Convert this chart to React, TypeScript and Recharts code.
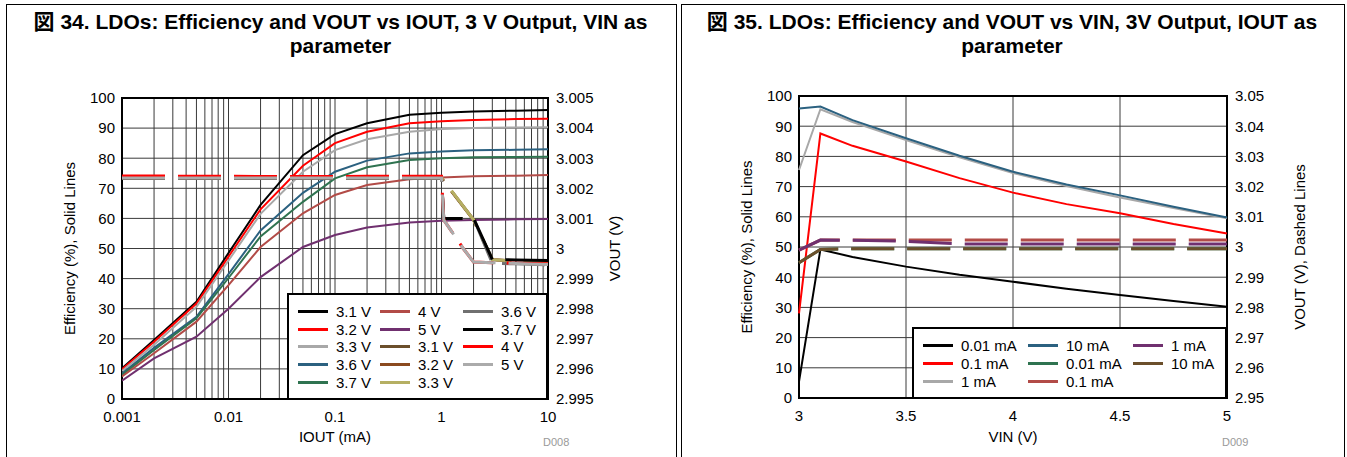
import React from "react"
import { CartesianGrid, Label, Legend, Line, LineChart, ReferenceArea, XAxis, YAxis } from "recharts"

const FONT = "Arial, 'Liberation Sans', 'Noto Sans CJK JP', sans-serif"

// ---- Fig 34: efficiency / VOUT vs IOUT, VIN as parameter ----
const ioutDecades = [0.001, 0.01, 0.1, 1, 10]
const ioutMinor = [1, 2, 3, 4, 5, 6, 7, 8, 9]
const iout = [0.001, 0.002, 0.005, 0.01, 0.02, 0.05, 0.1, 0.2, 0.5, 1, 2, 5, 10]
const eff31 = [10.2, 19.6, 32.3, 48.5, 64.5, 81, 88, 91.6, 94.4, 95.1, 95.5, 95.8, 96]
const eff32 = [9.9, 19, 31.7, 47.3, 63, 77.5, 85, 88.8, 91.6, 92.3, 92.7, 93, 93.1]
const eff33 = [9.3, 18, 30.6, 46, 61.5, 75.5, 82.7, 86.3, 88.8, 89.7, 90, 90.2, 90.3]
const eff36 = [8.5, 17, 27.3, 41.5, 56, 68.5, 75.5, 79.2, 81.6, 82.2, 82.6, 82.8, 83]
const eff37 = [8, 16.3, 26.8, 40.2, 54, 65.5, 73.3, 77, 79.4, 80, 80.3, 80.4, 80.5]
const eff40 = [7.5, 15.2, 25.7, 37.8, 50.5, 61.7, 67.8, 71.1, 73, 73.6, 74, 74.2, 74.4]
const eff50 = [6.1, 13.5, 20.7, 30, 40.5, 50.5, 54.5, 57, 58.6, 59.2, 59.5, 59.7, 59.8]

const ioutV = [0.001, 0.002, 0.005, 0.01, 0.02, 0.05, 0.1, 0.2, 0.5, 1, 1.05, 1.6, 2, 3, 5, 10]
const vout31 = [3.00233, 3.00233, 3.00233, 3.00233, 3.00233, 3.00233, 3.00233, 3.00233, 3.00233, 3.00233, null, null, 3.00095, 2.99963, 2.99958, 2.99953]
const vout32 = [3.00234, 3.00234, 3.00234, 3.00234, 3.00234, 3.00234, 3.00234, 3.00234, 3.00234, 3.00234, null, null, 3.00095, 2.99963, 2.99958, 2.99953]
const vout33 = [3.00236, 3.00236, 3.00236, 3.00236, 3.00236, 3.00236, 3.00236, 3.00236, 3.00236, 3.00236, null, null, 3.00095, 2.99963, 2.99958, 2.99953]
const vout36 = [3.00234, 3.00234, 3.00234, 3.00234, 3.00234, 3.00234, 3.00234, 3.00234, 3.00234, 3.00234, 3.001, null, 3.001, 2.99951, 2.99949, 2.99946]
const vout37 = [3.00235, 3.00235, 3.00235, 3.00235, 3.00235, 3.00235, 3.00235, 3.00235, 3.00235, 3.00235, 3.001, null, 3.001, 2.99964, 2.99962, 2.9996]
const vout40 = [3.00241, 3.00241, 3.0024, 3.0024, 3.00239, 3.00239, 3.00239, 3.0024, 3.0024, 3.0024, 3.00095, 3.0, 2.99955, 2.99953, 2.99951, 2.99949]
const vout50 = [3.00234, 3.00234, 3.00234, 3.00234, 3.00234, 3.00234, 3.00234, 3.00234, 3.00234, 3.00234, 3.00095, 3.0, 2.99955, 2.99953, 2.9995, 2.99947]

const effTicks = [0, 10, 20, 30, 40, 50, 60, 70, 80, 90, 100]
const vout34Ticks = [2.995, 2.996, 2.997, 2.998, 2.999, 3, 3.001, 3.002, 3.003, 3.004, 3.005]

const leftSeries = [
  { name: "3.1 V", color: "#000000", x: iout, y: eff31, axis: "eff" },
  { name: "3.2 V", color: "#ff0000", x: iout, y: eff32, axis: "eff" },
  { name: "3.3 V", color: "#a8a8a8", x: iout, y: eff33, axis: "eff" },
  { name: "3.6 V", color: "#2b6180", x: iout, y: eff36, axis: "eff" },
  { name: "3.7 V", color: "#2f7350", x: iout, y: eff37, axis: "eff" },
  { name: "4 V", color: "#b24b47", x: iout, y: eff40, axis: "eff" },
  { name: "5 V", color: "#70306f", x: iout, y: eff50, axis: "eff" },
  { name: "3.1 V", color: "#6b4f2b", x: ioutV, y: vout31, axis: "vout" },
  { name: "3.2 V", color: "#8b4a1f", x: ioutV, y: vout32, axis: "vout" },
  { name: "3.3 V", color: "#b5af63", x: ioutV, y: vout33, axis: "vout" },
  { name: "3.6 V", color: "#707070", x: ioutV, y: vout36, axis: "vout" },
  { name: "3.7 V", color: "#000000", x: ioutV, y: vout37, axis: "vout" },
  { name: "4 V", color: "#ff0000", x: ioutV, y: vout40, axis: "vout" },
  { name: "5 V", color: "#ababab", x: ioutV, y: vout50, axis: "vout" },
]

// ---- Fig 35: efficiency / VOUT vs VIN, IOUT as parameter ----
const vin = [3, 3.1, 3.25, 3.5, 3.75, 4, 4.25, 4.5, 4.75, 5]
const effA001 = [5.4, 49.2, 46.7, 43.5, 40.8, 38.5, 36.2, 34.1, 32.1, 30.2]
const effA01 = [28, 87.6, 83.5, 78.3, 72.8, 68, 64.2, 61.2, 57.6, 54.5]
const effA1 = [75.5, 95.6, 91.4, 85.4, 79.7, 74.5, 70.2, 66.4, 62.9, 59.5]
const effA10 = [95.9, 96.5, 92, 86, 80.2, 74.9, 70.7, 67.1, 63.3, 59.8]
const voutA001 = [2.9948, 2.9992, 2.9994, 2.9994, 2.9994, 2.9994, 2.9994, 2.9994, 2.9994, 2.9994]
const voutA01 = [2.999, 3.0023, 3.0023, 3.0023, 3.0023, 3.0023, 3.0023, 3.0023, 3.0023, 3.0023]
const voutA1 = [2.999, 3.0023, 3.0022, 3.0019, 3.001, 3.001, 3.001, 3.001, 3.001, 3.001]
const voutA10 = [2.9948, 2.9992, 2.9994, 2.9994, 2.9994, 2.9994, 2.9994, 2.9994, 2.9994, 2.9994]

const vinTicks = [3, 3.5, 4, 4.5, 5]
const vout35Ticks = [2.95, 2.96, 2.97, 2.98, 2.99, 3, 3.01, 3.02, 3.03, 3.04, 3.05]

const rightSeries = [
  { name: "0.01 mA", color: "#000000", y: effA001, axis: "eff" },
  { name: "0.1 mA", color: "#ff0000", y: effA01, axis: "eff" },
  { name: "1 mA", color: "#a8a8a8", y: effA1, axis: "eff" },
  { name: "10 mA", color: "#2b6180", y: effA10, axis: "eff" },
  { name: "0.01 mA", color: "#2f7350", y: voutA001, axis: "vout" },
  { name: "0.1 mA", color: "#b24b47", y: voutA01, axis: "vout" },
  { name: "1 mA", color: "#70306f", y: voutA1, axis: "vout" },
  { name: "10 mA", color: "#6b4f2b", y: voutA10, axis: "vout" },
]

const ioutTicks = ioutDecades.flatMap((d, i) =>
  i < ioutDecades.length - 1 ? ioutMinor.map((m) => +(d * m).toPrecision(3)) : [d]
)

const tickStyle = { fill: "#000", fontSize: 15, fontFamily: FONT }
const labelStyle = { fill: "#000", fontSize: 15, fontFamily: FONT, textAnchor: "middle" as const }
const DASH = "43 13"

type Item = { name: string; color: string }

function BoxLegend({ items, rows, cols, rowH, padTop }: { items: Item[]; rows: number; cols: string; rowH: number; padTop: number }) {
  return (
    <div
      style={{
        boxSizing: "border-box",
        width: "100%",
        height: "100%",
        border: "2px solid #000",
        background: "#fff",
        padding: `${padTop}px 0 0 9px`,
        display: "grid",
        gridAutoFlow: "column",
        gridTemplateRows: `repeat(${rows}, ${rowH}px)`,
        gridTemplateColumns: cols,
        fontFamily: FONT,
        fontSize: 15,
        color: "#000",
      }}
    >
      {items.map((it, i) => (
        <div key={i} style={{ display: "flex", alignItems: "center", whiteSpace: "nowrap" }}>
          <span style={{ display: "inline-block", width: 30, borderTop: `3px solid ${it.color}`, marginRight: 8 }} />
          <span>{it.name}</span>
        </div>
      ))}
    </div>
  )
}

function Fig34() {
  return (
    <LineChart width={676} height={457} margin={{ top: 98, right: 0, bottom: 0, left: 0 }}>
      <CartesianGrid yAxisId="eff" stroke="#3a3a3a" strokeWidth={1} />
      <XAxis
        dataKey="x"
        type="number"
        scale="log"
        domain={[0.001, 10]}
        ticks={ioutTicks}
        interval={0}
        allowDataOverflow
        height={58}
        axisLine={false}
        tickLine={false}
        tickMargin={6}
        tick={tickStyle}
        tickFormatter={(v: number) => (ioutDecades.includes(v) ? String(v) : "")}
      >
        <Label value="IOUT (mA)" position="insideBottom" offset={15} style={labelStyle} />
      </XAxis>
      <YAxis yAxisId="eff" domain={[0, 100]} ticks={effTicks} interval={0} width={122} axisLine={false} tickLine={false} tickMargin={1} tick={tickStyle}>
        <Label value="Efficiency (%), Solid Lines" angle={-90} position="insideLeft" offset={70} style={labelStyle} />
      </YAxis>
      <YAxis
        yAxisId="vout"
        orientation="right"
        domain={[2.995, 3.005]}
        ticks={vout34Ticks}
        interval={0}
        width={128}
        axisLine={false}
        tickLine={false}
        tick={tickStyle}
        allowDataOverflow
        tickFormatter={(v: number) => String(+v.toFixed(3))}
      >
        <Label value="VOUT (V)" angle={-90} position="insideLeft" offset={67} style={labelStyle} />
      </YAxis>
      {leftSeries.map((s, i) => (
        <Line
          key={i}
          yAxisId={s.axis}
          data={s.x.map((x, j) => ({ x, y: s.y[j] }))}
          dataKey="y"
          name={s.name}
          type="linear"
          stroke={s.color}
          strokeWidth={s.axis === "eff" ? 2 : 3}
          strokeDasharray={s.axis === "eff" ? undefined : DASH}
          dot={false}
          activeDot={false}
          connectNulls
          isAnimationActive={false}
        />
      ))}
      <ReferenceArea yAxisId="eff" x1={0.001} x2={10} y1={0} y2={100} fill="none" stroke="#000" strokeWidth={2} ifOverflow="visible" />
      <Legend
        layout="horizontal"
        verticalAlign="middle"
        align="center"
        wrapperStyle={{ left: 287, top: 293, width: 261, height: 107 }}
        content={() => <BoxLegend items={leftSeries} rows={5} cols="82px 83px auto" rowH={17.6} padTop={8} />}
      />
    </LineChart>
  )
}

function Fig35() {
  return (
    <LineChart width={666} height={457} margin={{ top: 96, right: 0, bottom: 0, left: 0 }}>
      <CartesianGrid yAxisId="eff" stroke="#3a3a3a" strokeWidth={1} />
      <XAxis
        dataKey="x"
        type="number"
        domain={[3, 5]}
        ticks={vinTicks}
        interval={0}
        height={59}
        axisLine={false}
        tickLine={false}
        tickMargin={6}
        tick={tickStyle}
      >
        <Label value="VIN (V)" position="insideBottom" offset={15} style={labelStyle} />
      </XAxis>
      <YAxis yAxisId="eff" domain={[0, 100]} ticks={effTicks} interval={0} width={118} axisLine={false} tickLine={false} tickMargin={1} tick={tickStyle}>
        <Label value="Efficiency (%), Solid Lines" angle={-90} position="insideLeft" offset={66} style={labelStyle} />
      </YAxis>
      <YAxis
        yAxisId="vout"
        orientation="right"
        domain={[2.95, 3.05]}
        ticks={vout35Ticks}
        interval={0}
        width={120}
        axisLine={false}
        tickLine={false}
        tick={tickStyle}
        allowDataOverflow
        tickFormatter={(v: number) => String(+v.toFixed(2))}
      >
        <Label value="VOUT (V), Dashed Lines" angle={-90} position="insideLeft" offset={73} style={labelStyle} />
      </YAxis>
      {rightSeries.map((s, i) => (
        <Line
          key={i}
          yAxisId={s.axis}
          data={vin.map((x, j) => ({ x, y: s.y[j] }))}
          dataKey="y"
          name={s.name}
          type="linear"
          stroke={s.color}
          strokeWidth={s.axis === "eff" ? 2 : 3}
          strokeDasharray={s.axis === "eff" ? undefined : DASH}
          dot={false}
          activeDot={false}
          isAnimationActive={false}
        />
      ))}
      <ReferenceArea yAxisId="eff" x1={3} x2={5} y1={0} y2={100} fill="none" stroke="#000" strokeWidth={2} ifOverflow="visible" />
      <Legend
        layout="horizontal"
        verticalAlign="middle"
        align="center"
        wrapperStyle={{ left: 231, top: 327, width: 315, height: 72 }}
        content={() => <BoxLegend items={rightSeries} rows={3} cols="105px 105px auto" rowH={17.8} padTop={8} />}
      />
    </LineChart>
  )
}

const titleStyle: React.CSSProperties = {
  position: "absolute",
  top: 10,
  textAlign: "center",
  fontFamily: FONT,
  fontWeight: "bold",
  fontSize: 21,
  lineHeight: "24px",
  color: "#000",
}

const noteStyle: React.CSSProperties = {
  position: "absolute",
  top: 436,
  fontFamily: FONT,
  fontSize: 11,
  color: "#999",
}

export default function App() {
  return (
    <div style={{ position: "absolute", left: 0, top: 0, width: 1347, height: 457, background: "#fff", overflow: "hidden", fontFamily: FONT }}>
      <div style={{ position: "absolute", left: 6, top: 4, width: 669, height: 460, borderLeft: "1px solid #000", borderTop: "1px solid #000", borderRight: "1px solid #000" }} />
      <div style={{ position: "absolute", left: 681, top: 4, width: 662, height: 460, borderLeft: "1px solid #000", borderTop: "1px solid #000", borderRight: "1px solid #000" }} />
      <div style={{ ...titleStyle, left: 6, width: 669 }}>
        図 34. LDOs: Efficiency and VOUT vs IOUT, 3 V Output, VIN as
        <br />
        parameter
      </div>
      <div style={{ ...titleStyle, left: 681, width: 662 }}>
        図 35. LDOs: Efficiency and VOUT vs VIN, 3V Output, IOUT as
        <br />
        parameter
      </div>
      <div style={{ position: "absolute", left: 0, top: 0 }}>
        <Fig34 />
      </div>
      <div style={{ position: "absolute", left: 681, top: 0 }}>
        <Fig35 />
      </div>
      <div style={{ ...noteStyle, left: 543 }}>D008</div>
      <div style={{ ...noteStyle, left: 1222 }}>D009</div>
    </div>
  )
}
